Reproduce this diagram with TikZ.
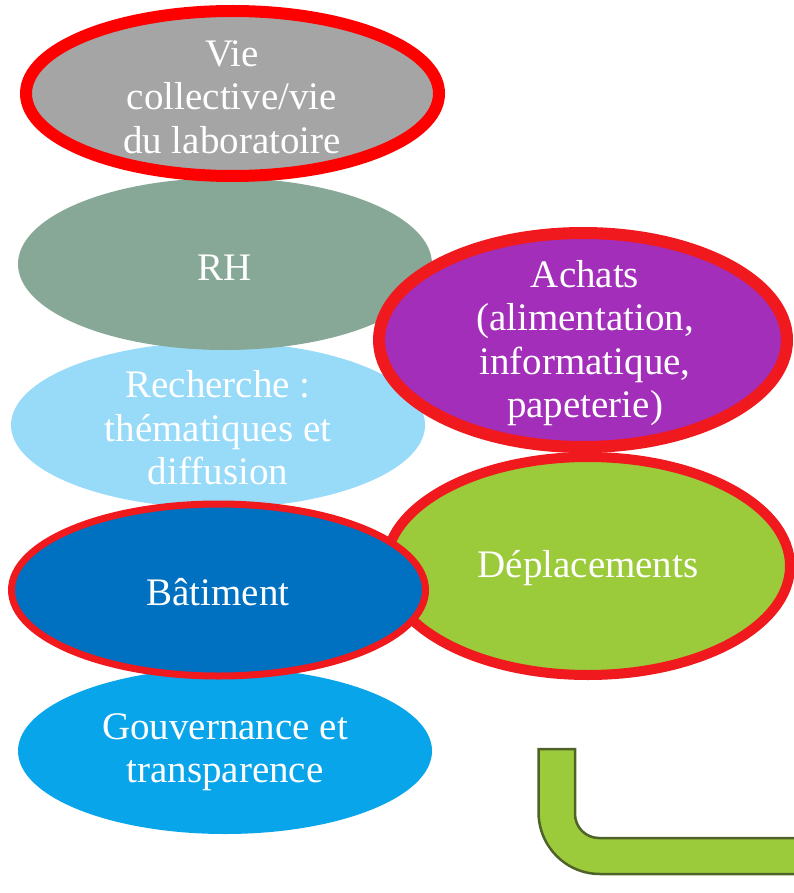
\documentclass[tikz,border=0pt]{standalone}
\usepackage{fontspec}
\setmainfont{Liberation Serif}
\usetikzlibrary{shapes.geometric}
\definecolor{cgray}{HTML}{A5A5A5}
\definecolor{crh}{HTML}{87A896}
\definecolor{crech}{HTML}{97DBF9}
\definecolor{cach}{HTML}{A32EB9}
\definecolor{cdep}{HTML}{9BCB3B}
\definecolor{cbat}{HTML}{0070C0}
\definecolor{cgouv}{HTML}{09A5EA}
\definecolor{cred}{HTML}{F0191E}
\definecolor{cvred}{HTML}{FF0000}
\definecolor{colive}{HTML}{4F6228}
\tikzset{
  bubble/.style={text=white, align=center, font=\fontsize{39}{43.5}\selectfont},
  lbl/.style={bubble, inner sep=0pt},
}
\begin{document}
\begin{tikzpicture}[x=1pt,y=-1pt]
\useasboundingbox (0,0) rectangle (794,893);
\begin{scope}
\clip (0,0) rectangle (794,893);
% bent arrow
\draw[colive, line width=2.5pt, fill=cdep] (538.5,749) -- (575,749) -- (575,814)
  .. controls (575,827.25) and (585.75,838) .. (599,838) -- (820,838) -- (820,874) -- (600,874)
  .. controls (565.8,874) and (538.5,846.2) .. (538.5,812) -- cycle;
% ellipses
\fill[cgouv] (225,751) ellipse[x radius=207, y radius=83];
\fill[crech] (218,425) ellipse[x radius=207, y radius=83];
\fill[crh] (225,264) ellipse[x radius=207, y radius=86];
\draw[cvred, line width=12pt, fill=cgray] (232.5,93.5) ellipse[x radius=206.5, y radius=82.5];
\draw[cred, line width=12pt, fill=cach] (583,340) ellipse[x radius=204, y radius=107];
\draw[cred, line width=10pt, fill=cdep] (588,566) ellipse[x radius=202, y radius=109];
\draw[cred, line width=7pt, fill=cbat] (218.5,590) ellipse[x radius=207, y radius=86];
\end{scope}
% texts
\node[lbl] (vie) at (232,97) {Vie\\collective/vie\\du laboratoire};
\node[lbl] (rh) at (225,268) {RH};
\node[lbl] (rech) at (218,428) {Recherche :\\thématiques et\\diffusion};
\node[lbl] (ach) at (585,343) {Achats\\(alimentation,\\informatique,\\papeterie)};
\node[lbl] (dep) at (588,568) {Déplacements};
\node[lbl] (bat) at (218,592) {Bâtiment};
\node[lbl] (gouv) at (225,752) {Gouvernance et\\transparence};
\end{tikzpicture}
\end{document}
